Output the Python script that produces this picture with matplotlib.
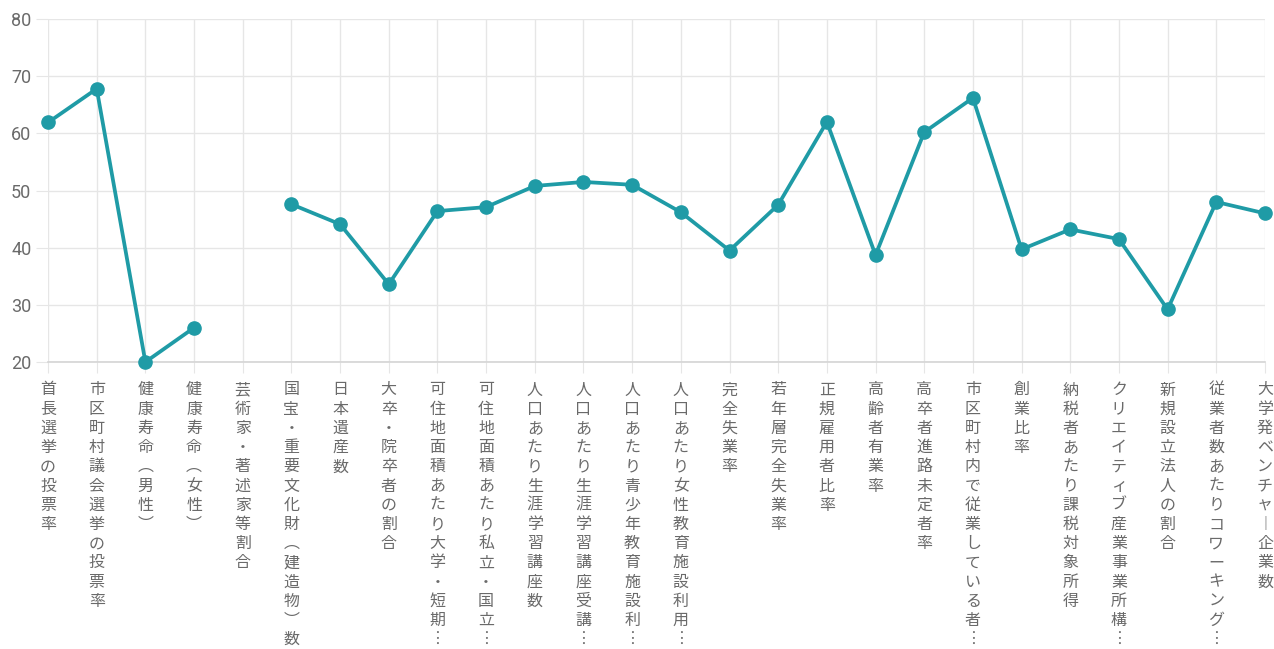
import numpy as np
import matplotlib
matplotlib.use("Agg")
import matplotlib.pyplot as plt

plt.rcParams['font.family'] = ['Noto Sans CJK JP', 'DejaVu Sans']

LABELS = [
    "首長選挙の投票率",
    "市区町村議会選挙の投票率",
    "健康寿命（男性）",
    "健康寿命（女性）",
    "芸術家・著述家等割合",
    "国宝・重要文化財（建造物）数",
    "日本遺産数",
    "大卒・院卒者の割合",
    "可住地面積あたり大学・短期…",
    "可住地面積あたり私立・国立…",
    "人口あたり生涯学習講座数",
    "人口あたり生涯学習講座受講…",
    "人口あたり青少年教育施設利…",
    "人口あたり女性教育施設利用…",
    "完全失業率",
    "若年層完全失業率",
    "正規雇用者比率",
    "高齢者有業率",
    "高卒者進路未定者率",
    "市区町村内で従業している者…",
    "創業比率",
    "納税者あたり課税対象所得",
    "クリエイティブ産業事業所構…",
    "新規設立法人の割合",
    "従業者数あたりコワーキング…",
    "大学発ベンチャ―企業数",
]

VALUES = [
    61.9, 67.8, 20.0, 26.0, np.nan, 47.6, 44.1, 33.6, 46.4, 47.1,
    50.8, 51.5, 51.0, 46.2, 39.5, 47.5, 62.0, 38.7, 60.2, 66.2,
    39.7, 43.2, 41.5, 29.2, 48.0, 46.0,
]

Y_TICKS = [20, 30, 40, 50, 60, 70, 80]

LINE_COLOR = '#1f9ba6'
GRID_COLOR = '#e6e6e6'
TEXT_COLOR = '#6a6a6a'

VERTICAL_FORMS = {"（": "︵", "）": "︶", "…": "︙", "―": "︱"}


def to_vertical(text):
    # stack characters top-to-bottom like vertical writing
    return "\n".join(VERTICAL_FORMS.get(c, c) for c in text)


fig = plt.figure(figsize=(12.74, 6.49), dpi=100)
ax = fig.add_axes([0.0377, 0.4422, 0.9552, 0.5285])

x = np.arange(len(LABELS))
ax.plot(x, VALUES, color=LINE_COLOR, lw=2.7, marker='o', ms=9.5,
        clip_on=False, zorder=3)

ax.set_xlim(0, len(LABELS) - 1)
ax.set_ylim(Y_TICKS[0], Y_TICKS[-1])
ax.set_yticks(Y_TICKS)
ax.set_yticklabels([str(v) for v in Y_TICKS], family='Roboto', fontsize=13,
                   color=TEXT_COLOR)
ax.set_xticks(x)
ax.set_xticklabels([to_vertical(s) for s in LABELS], fontsize=11.5,
                   color=TEXT_COLOR, va='top', ha='center', linespacing=1.17)

ax.grid(color=GRID_COLOR, lw=1)
ax.set_axisbelow(True)
for side in ['top', 'right', 'left']:
    ax.spines[side].set_visible(False)
ax.spines['bottom'].set_color('#d4d4d4')
ax.spines['bottom'].set_linewidth(1.2)
ax.tick_params(axis='x', length=8, color=GRID_COLOR, pad=6)
ax.tick_params(axis='y', length=9, color=GRID_COLOR, pad=3)

fig.savefig('out.png', dpi=100)
